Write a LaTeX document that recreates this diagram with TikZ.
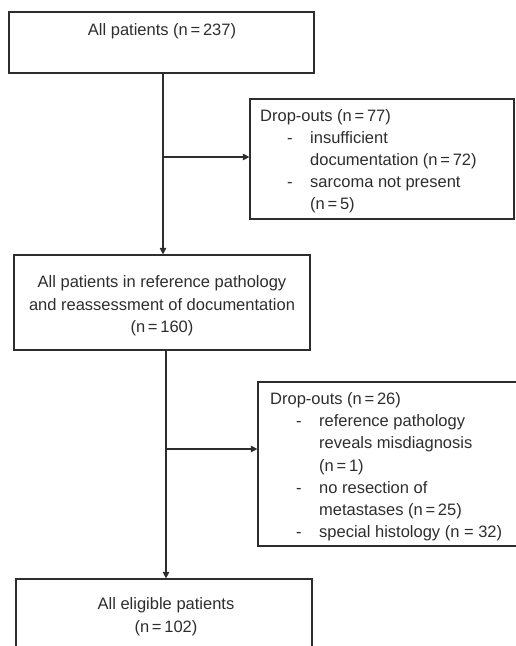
\documentclass[tikz,border=0pt]{standalone}
\usepackage{fontspec}
\setmainfont{Liberation Sans}
\usetikzlibrary{arrows.meta}
\definecolor{ink}{RGB}{45,45,45}
\newcommand{\dashitem}[1]{\hspace*{27pt}\makebox[23pt][l]{-}#1}
\newcommand{\contline}[1]{\hspace*{50pt}#1}
\newcommand{\dashitemb}[1]{\hspace*{26pt}\makebox[23pt][l]{-}#1}
\newcommand{\contlineb}[1]{\hspace*{49pt}#1}
\begin{document}
\begin{tikzpicture}[x=1pt,y=-1pt,
  box/.style={draw=ink, line width=1.2pt, inner sep=0pt},
  txt/.style={text=ink, inner sep=0pt, font=\fontsize{16.5}{22}\selectfont},
  conn/.style={draw=ink, line width=1.2pt, -{Triangle[length=6.5pt,width=6.5pt]}}]
\useasboundingbox (0,0) rectangle (516,646);
\clip (0,0) rectangle (516,646);
% boxes
\node[box, minimum width=305pt, minimum height=61pt] (b1) at (161.5,42.5) {};
\node[box, minimum width=264pt, minimum height=120pt] (b2) at (382,159) {};
\node[box, minimum width=296pt, minimum height=95pt] (b3) at (162,302.5) {};
\node[box, minimum width=272pt, minimum height=164pt] (b4) at (394,464) {};
\node[box, minimum width=296pt, minimum height=101pt] (b5) at (164,629.5) {};
% texts
\node[txt] (t1) at (162,31) {All patients (n\,=\,237)};
\node[txt, anchor=north west, align=left] (t2) at (260,109) {Drop-outs (n\,=\,77)\\
\dashitem{insufficient}\\
\contline{documentation (n\,=\,72)}\\
\dashitem{sarcoma not present}\\
\contline{(n\,=\,5)}};
\node[txt, align=center, font=\fontsize{16.5}{22.6}\selectfont] (t3) at (162,306) {All patients in reference pathology\\and reassessment of documentation\\(n\,=\,160)};
\node[txt, anchor=north west, align=left, font=\fontsize{16.5}{22.3}\selectfont] (t4) at (270,392) {Drop-outs (n\,=\,26)\\
\dashitemb{reference pathology}\\
\contlineb{reveals misdiagnosis}\\
\contlineb{(n\,=\,1)}\\
\dashitemb{no resection of}\\
\contlineb{metastases (n\,=\,25)}\\
\dashitemb{special histology (n = 32)}};
\node[txt, align=center, font=\fontsize{16.5}{23}\selectfont] (t5) at (166,617) {All eligible patients\\(n\,=\,102)};
% connectors
\coordinate (j1) at (163,157);
\coordinate (j2) at (166,449);
\draw[conn] (j1 |- b1.south) -- (j1 |- b3.north);
\draw[conn] (j1) -- (j1 -| b2.west);
\draw[conn] (j2 |- b3.south) -- (j2 |- b5.north);
\draw[conn] (j2) -- (j2 -| b4.west);
\end{tikzpicture}
\end{document}
